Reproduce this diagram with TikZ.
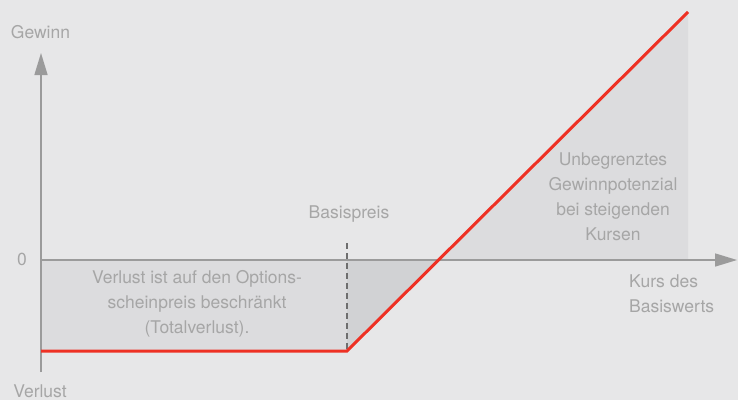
\documentclass[tikz,border=0pt]{standalone}
\usepackage{fontspec}
\setmainfont{TeX Gyre Heros}
\usetikzlibrary{arrows.meta}
\definecolor{bggray}{HTML}{E7E7E8}
\definecolor{shadegray}{HTML}{DCDCDE}
\definecolor{darkshade}{HTML}{D1D2D4}
\definecolor{axisgray}{HTML}{9B9B9B}
\definecolor{textgray}{HTML}{A6A6A6}
\definecolor{dashgray}{HTML}{6E6E6E}
\definecolor{payoffred}{HTML}{EE3124}
\begin{document}
\begin{tikzpicture}[x=1pt, y=-1pt,
  axis/.style={draw=axisgray, line width=1.5pt,
    -{Triangle[length=22pt, width=13pt]}},
  payoff/.style={draw=payoffred, line width=3pt, line join=miter},
  strikeline/.style={draw=dashgray, line width=2pt, dash pattern=on 6pt off 4pt},
  every node/.style={text=textgray, inner sep=0pt, align=center,
    font=\fontsize{17.5}{25}\selectfont}
  ]
  \useasboundingbox (0,0) rectangle (738,400);
  \fill[bggray] (0,0) rectangle (738,400);
  % points of the diagram
  \coordinate (origin) at (41,260);
  \coordinate (ytop) at (41,53);
  \coordinate (ybot) at (41,372);
  \coordinate (xend) at (737,260);
  \coordinate (loss) at (41,351);
  \coordinate (strike) at (347,351);
  \coordinate (strikezero) at (347,260);
  \coordinate (striketop) at (347,243);
  \coordinate (breakeven) at (438.5,260);
  \coordinate (peak) at (688,12);
  \coordinate (peakbase) at (688,260);
  % shaded areas
  \fill[shadegray] (origin) rectangle (strike);
  \fill[darkshade] (strikezero) -- (strike) -- (breakeven) -- cycle;
  \fill[shadegray] (breakeven) -- (peak) -- (peakbase) -- cycle;
  % axes
  \draw[axis] (ybot) -- (ytop);
  \draw[axis] (origin) -- (xend);
  % strike and payoff
  \draw[strikeline] (striketop) -- (strike);
  \draw[payoff] (loss) -- (strike) -- (peak);
  % labels
  \node (gewinn) at (40.5,32) {Gewinn};
  \node (verlust) at (40,391) {Verlust};
  \node (null) at (22,259) {0};
  \node (basispreis) at (349,214) {Basispreis};
  \node[anchor=west] (kurs) at (629,294) [align=left] {Kurs des\\Basiswerts};
  \node (potenzial) at (613,197)
    {Unbegrenztes\\Gewinnpotenzial\\bei steigenden\\Kursen};
  \node (totalverlust) at (197,304)
    {Verlust ist auf den Options-\\scheinpreis beschränkt\\(Totalverlust).};
\end{tikzpicture}
\end{document}
